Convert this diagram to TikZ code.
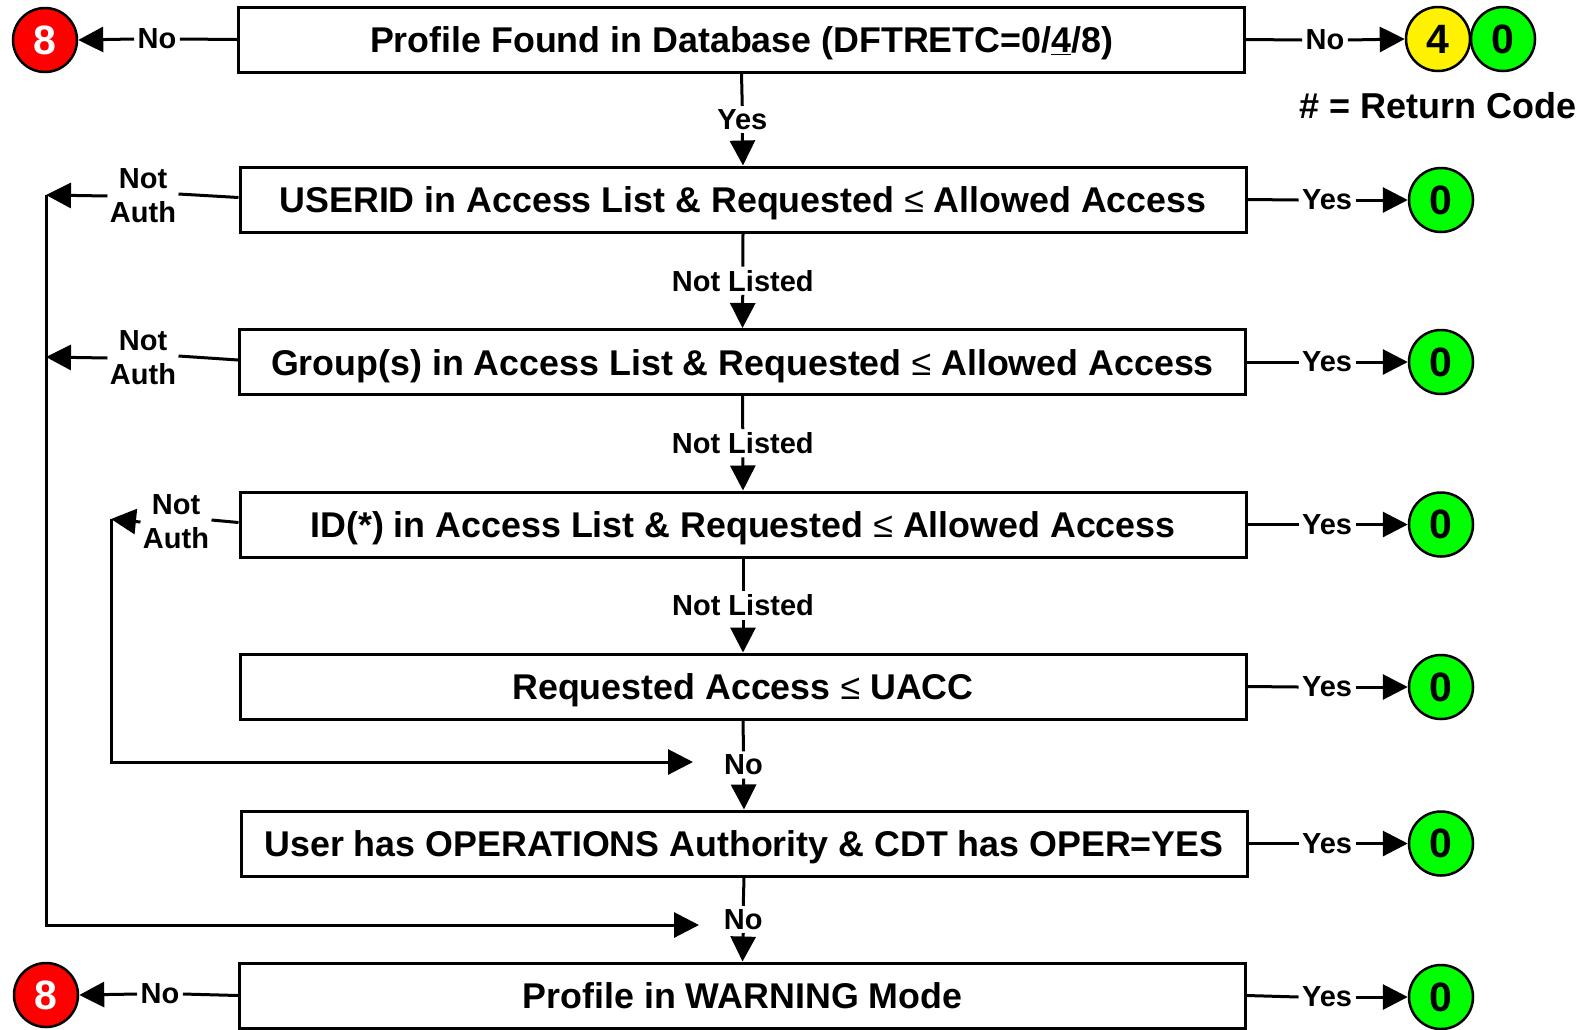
\documentclass[tikz,border=0pt]{standalone}
\usepackage{fontspec}
\setmainfont{Liberation Sans}
\usetikzlibrary{arrows.meta,calc}
\newcommand{\leqsym}{{\mdseries ≤}}
\begin{document}
\begin{tikzpicture}[x=1pt,y=-1pt,line width=3pt,
 box/.style={draw,minimum width=1006pt,minimum height=65pt,inner sep=0pt,text height=26pt,text depth=0pt,font=\fontsize{35.8}{40}\selectfont\bfseries},
 lbl/.style={font=\fontsize{29}{34}\selectfont\bfseries,inner sep=2pt,align=center},
 rc/.style={circle,draw,line width=2.5pt,minimum size=64pt,inner sep=0pt,font=\fontsize{41}{41}\selectfont\bfseries},
 redc/.style={rc,fill=red,text=white},
 grnc/.style={rc,fill={rgb,255:red,0;green,255;blue,0}},
 yelc/.style={rc,fill=yellow},
 arr/.style={-{Triangle[length=25pt,width=25pt]}},
]
\useasboundingbox (0,0) rectangle (1589,1029);

% boxes
\node[box] (b1) at (741.5,39.5) {Profile Found in Database (DFTRETC=0/\underline{4}/8)};
\node[box] (b2) at (743,199.5) {USERID in Access List \& Requested \leqsym{} Allowed Access};
\node[box] (b3) at (742.5,362) {Group(s) in Access List \& Requested \leqsym{} Allowed Access};
\node[box] (b4) at (743,524.5) {ID(*) in Access List \& Requested \leqsym{} Allowed Access};
\node[box] (b5) at (743,686.5) {Requested Access \leqsym{} UACC};
\node[box] (b6) at (744,843.5) {User has OPERATIONS Authority \& CDT has OPER=YES};
\node[box] (b7) at (742.5,995.5) {Profile in WARNING Mode};

% vertical labels
\node[lbl] (v1) at ($(b1.south)!0.5!(b2.north)$) {Yes};
\node[lbl] (v2) at ($(b2.south)!0.5!(b3.north)$) {Not Listed};
\node[lbl] (v3) at ($(b3.south)!0.5!(b4.north)$) {Not Listed};
\node[lbl] (v4) at ($(b4.south)!0.5!(b5.north)$) {Not Listed};
\node[lbl] (v5) at ($(b5.south)!0.5!(b6.north)$) {No};
\node[lbl] (v6) at ($(b6.south)!0.5!(b7.north)$) {No};
\foreach \a/\l/\b in {b1/v1/b2,b2/v2/b3,b3/v3/b4,b4/v4/b5,b5/v5/b6,b6/v6/b7}{
  \draw (\a.south) -- (\l.north);
  \draw[arr] (\l.south) -- (\b.north);
}

% right side
\node[lbl] (rn1) at (1325,40) {No};
\node[yelc] (c4) at (1438,39) {4};
\node[grnc] (c0) at (1503,39) {0};
\node[font=\fontsize{36}{38}\selectfont\bfseries] (legend) at (1438,106) {\# = Return Code};
\draw (b1.east) -- (rn1.west);
\draw[arr] (rn1.east) -- (c4.west);

\foreach \i/\y in {2/200,3/362,4/524.5,5/687,6/843.5,7/997}{
  \node[lbl] (ry\i) at (1327,\y) {Yes};
  \node[grnc] (g\i) at (1441,\y) {0};
  \draw (b\i.east) -- (ry\i.west);
  \draw[arr] (ry\i.east) -- (g\i.west);
}

% left side
\node[redc] (r1) at (45,40) {8};
\node[lbl] (ln1) at (157,39) {No};
\draw (b1.west) -- (ln1.east);
\draw[arr] (ln1.west) -- (r1.east);

\node[redc] (r7) at (46,995) {8};
\node[lbl] (ln7) at (160,994) {No};
\draw (b7.west) -- (ln7.east);
\draw[arr] (ln7.west) -- (r7.east);

% outer loop
\coordinate (o2) at (46,195);
\coordinate (o3) at (46,357);
\coordinate (oe) at (699,925);
\node[lbl,inner sep=1pt] (na2) at (143,196) {Not\\Auth};
\node[lbl,inner sep=1pt] (na3) at (143,358) {Not\\Auth};
\draw ([yshift=2pt]b2.west) -- ([yshift=2pt]na2.east);
\draw[arr] (na2.west) -- (o2);
\draw ([yshift=2pt]b3.west) -- ([yshift=2pt]na3.east);
\draw[arr] (na3.west) -- (o3);
\draw[arr] (o2) |- (oe);

% inner loop
\coordinate (i4) at (111,519);
\coordinate (ie) at (693,762);
\node[lbl,inner sep=1pt] (na4) at (176,522) {Not\\Auth};
\draw ([yshift=2pt]b4.west) -- ([yshift=2pt]na4.east);
\draw[arr] (na4.west) -- (i4);
\draw[arr] (i4) |- (ie);
\end{tikzpicture}
\end{document}
